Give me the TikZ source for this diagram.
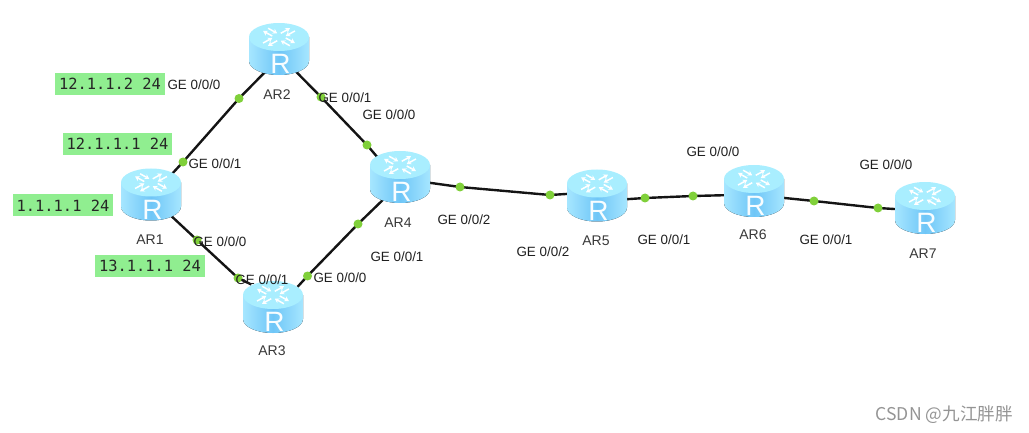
\documentclass[tikz,border=0pt]{standalone}
\usepackage{fontspec}
\setmainfont{Liberation Sans}
\newfontfamily\monof{DejaVu Sans Mono}
\newfontfamily\cjkf{Noto Sans CJK SC}
\usetikzlibrary{arrows.meta}
\definecolor{gbox}{HTML}{90EE90}
\definecolor{dotg}{HTML}{80D03A}
\definecolor{sideA}{HTML}{A6E6FF}
\definecolor{sideB}{HTML}{6FC6F7}
\definecolor{topc}{HTML}{A9EEFF}
\tikzset{
  x=1pt,y=-1pt,
  routerbase/.style={rectangle,minimum width=60pt,minimum height=52pt,inner sep=0pt,outer sep=0pt},
  linkline/.style={line width=2.4pt,draw=black!92,shorten <=-8pt,shorten >=-8pt},
  portdot/.style={circle,fill=dotg,minimum size=9pt,inner sep=0pt,outer sep=0pt},
  port/.style={font=\fontsize{13.4}{15}\selectfont,text=black!88,inner sep=0pt},
  devname/.style={font=\fontsize{14}{16}\selectfont,text=black!78,inner sep=0pt},
  ipbox/.style={fill=gbox,font=\monof\fontsize{15.4}{17}\selectfont,text=black!85,inner sep=0pt,minimum height=22pt},
  garrow/.style={line width=1.5pt,white,-{Stealth[length=4.5pt,width=5.4pt]}},
  routericon/.pic={
    \fill[left color=sideA,right color=sideA,middle color=sideB]
      (-30,-12) -- (-30,12) arc[x radius=30,y radius=14,start angle=180,end angle=0,y=1pt] -- (30,-12) -- cycle;
    \fill[topc] (0,-12) ellipse[x radius=30,y radius=14];
    \foreach \a in {45,135,225,315}{
      \begin{scope}[shift={(0,-12)},yscale=0.55,rotate=\a]
        \draw[garrow] (6,-3.5) -- (19,-3.5);
        \draw[garrow] (19,3.5) -- (6,3.5);
      \end{scope}
    }
    \node[font=\fontsize{28}{30}\selectfont,text=white!92!sideA,inner sep=0pt] (-letter) at (1.5,15) {R};
  }
}
\begin{document}
\begin{tikzpicture}
\useasboundingbox (0,0) rectangle (1029,433);
% device anchors
\node[routerbase] (ar1) at (151,194.5) {};
\node[routerbase] (ar2) at (279,49) {};
\node[routerbase] (ar3) at (273,307) {};
\node[routerbase] (ar4) at (400,177) {};
\node[routerbase] (ar5) at (597,195.5) {};
\node[routerbase] (ar6) at (754,191) {};
\node[routerbase] (ar7) at (925,208) {};
% port dots (positions)
\coordinate (p12a) at (183,162);
\coordinate (p12b) at (239,98.5);
\coordinate (p13a) at (197,240);
\coordinate (p13b) at (238,278);
\coordinate (p24a) at (321,97);
\coordinate (p24b) at (367,145);
\coordinate (p34a) at (307.5,276);
\coordinate (p34b) at (358,224);
\coordinate (p45a) at (460,187);
\coordinate (p45b) at (550,195);
\coordinate (p56a) at (645,198);
\coordinate (p56b) at (693,196);
\coordinate (p67a) at (814,201);
\coordinate (p67b) at (878,208);
% connectors
\draw[linkline] (ar1.45) -- (p12a) -- (p12b) -- (ar2.237);
\draw[linkline] (ar1.314) -- (p13a) -- (p13b) -- (ar3.138);
\draw[linkline] (ar2.308) -- (p24a) -- (p24b) -- (ar4.137);
\draw[linkline] (ar3.41) -- (p34a) -- (p34b) -- (ar4.232);
\draw[linkline] (ar4.349) -- (p45a) -- (p45b) -- (ar5.177);
\draw[linkline] (ar5.353) -- (p56a) -- (p56b) -- (ar6.188);
\draw[linkline] (ar6.347) -- (p67a) -- (p67b) -- (ar7.182);
\foreach \p in {p12a,p12b,p13a,p13b,p24a,p24b,p34a,p34b,p45a,p45b,p56a,p56b,p67a,p67b}
  \node[portdot] (dot\p) at (\p) {};
% routers
\foreach \r in {ar1,ar2,ar3,ar4,ar5,ar6,ar7}
  \pic (icon\r) at (\r) {routericon};
% names
\node[devname] (n1) at (150,240) {AR1};
\node[devname] (n2) at (277,95) {AR2};
\node[devname] (n3) at (272,351) {AR3};
\node[devname] (n4) at (398,223) {AR4};
\node[devname] (n5) at (596,241) {AR5};
\node[devname] (n6) at (753,235) {AR6};
\node[devname] (n7) at (923,254) {AR7};
% ports
\node[port] (g1) at (194,85) {GE 0/0/0};
\node[port] (g2) at (215,164) {GE 0/0/1};
\node[port] (g3) at (345,98) {GE 0/0/1};
\node[port] (g4) at (389,115) {GE 0/0/0};
\node[port] (g5) at (220,242) {GE 0/0/0};
\node[port] (g6) at (262,280) {GE 0/0/1};
\node[port] (g7) at (340,278) {GE 0/0/0};
\node[port] (g8) at (397,257) {GE 0/0/1};
\node[port] (g9) at (464,220) {GE 0/0/2};
\node[port] (g10) at (543,252) {GE 0/0/2};
\node[port] (g11) at (664,240) {GE 0/0/1};
\node[port] (g12) at (713,152) {GE 0/0/0};
\node[port] (g13) at (826,240) {GE 0/0/1};
\node[port] (g14) at (886,165) {GE 0/0/0};
% IP labels
\node[ipbox,minimum width=110pt] (ip1) at (110,84) {12.1.1.2 24};
\node[ipbox,minimum width=109pt] (ip2) at (117.5,144) {12.1.1.1 24};
\node[ipbox,minimum width=100pt] (ip3) at (63,205.5) {1.1.1.1 24};
\node[ipbox,minimum width=110pt] (ip4) at (150,266) {13.1.1.1 24};
% watermark
\node[font=\cjkf\fontsize{17.6}{19}\selectfont,text=black!42,inner sep=0pt,anchor=east] (wm) at (1013,415) {CSDN @九江胖胖};
\end{tikzpicture}
\end{document}
